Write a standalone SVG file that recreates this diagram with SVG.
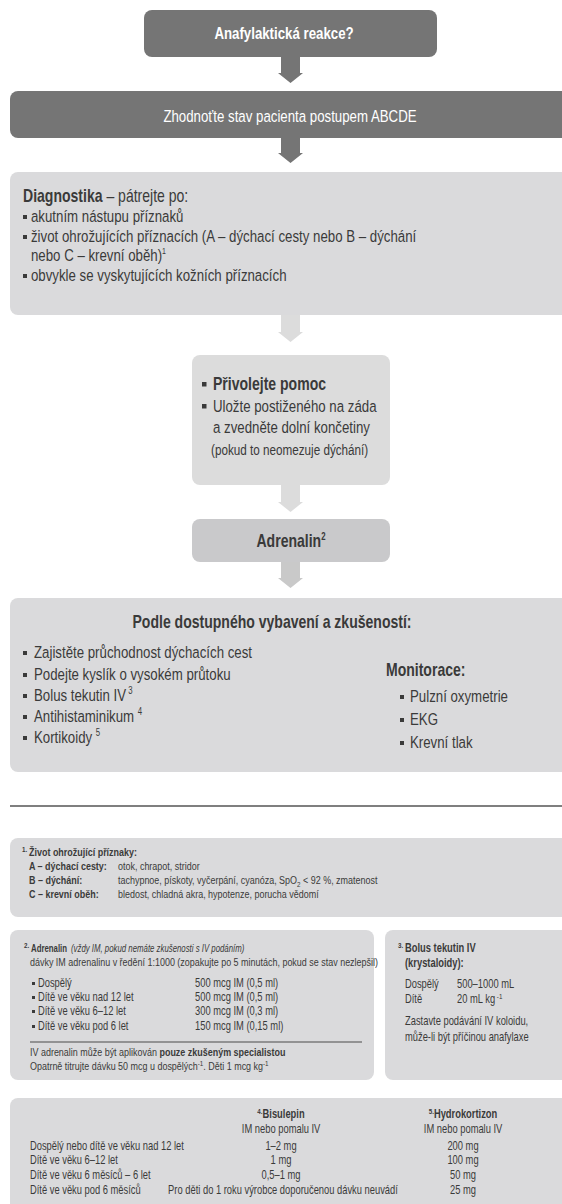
<svg xmlns="http://www.w3.org/2000/svg" width="562" height="1204" viewBox="0 0 562 1204">
<style>
text { font-family: "Liberation Sans", Arial, sans-serif; fill: #3a3a3a; transform-box: fill-box; transform-origin: 0 50%; transform: scaleX(0.78); }
text.m { text-anchor: middle; transform-origin: 50% 50%; }
text.n { transform: scaleX(0.68); }
.w { fill: #ffffff; }
.b { font-weight: bold; }
.dark { fill: #757575; }
.light { fill: #dadadc; }
.mid { fill: #c9c9cb; }
.bul { fill: #3a3a3a; }
.f17 { font-size: 17px; }
.f18 { font-size: 18px; }
.f16 { font-size: 17px; }
.f15 { font-size: 15px; }
.f12 { font-size: 12px; }
.f11 { font-size: 11.5px; }
.sup { font-size: 8px; }
</style>
<g id="connectors">
  <polygon class="dark" points="281,57 300,57 300,73 303,73 290.5,83 278,73 281,73"/>
  <polygon class="dark" points="281,138 300,138 300,153 303,153 290.5,163 278,153 281,153"/>
  <polygon fill="#dcdcdc" points="281,315 300,315 300,332 303,332 290.5,342 278,332 281,332"/>
  <polygon fill="#dcdcdc" points="281,485 300,485 300,502 303,502 290.5,512 278,502 281,502"/>
  <polygon fill="#c9c9c9" points="281,562 300,562 300,578 303,578 290.5,588 278,578 281,578"/>
</g>
<g id="n1">
  <rect class="dark" x="144" y="10" width="293" height="47" rx="8"/>
  <text class="m w b f17" x="284" y="39">Anafylaktická reakce?</text>
</g>
<g id="n2">
  <rect class="dark" x="10" y="91" width="560" height="47" rx="8"/>
  <text class="m w f17" x="290" y="122">Zhodnoťte stav pacienta postupem ABCDE</text>
</g>
<g id="n3">
  <rect class="light" x="10" y="172" width="560" height="143" rx="8"/>
  <text class="f18" x="23" y="202" font-size="18.5"><tspan class="b">Diagnostika</tspan> – pátrejte po:</text>
  <rect class="bul" x="23" y="215" width="4" height="4"/>
  <text class="f16" x="31" y="222">akutním nástupu příznaků</text>
  <rect class="bul" x="23" y="235" width="4" height="4"/>
  <text class="f16" x="31" y="242">život ohrožujících příznacích (A – dýchací cesty nebo B – dýchání</text>
  <text class="f16" x="31" y="261">nebo C – krevní oběh)<tspan font-size="9" dy="-7">1</tspan></text>
  <rect class="bul" x="23" y="274" width="4" height="4"/>
  <text class="f16" x="31" y="281">obvykle se vyskytujících kožních příznacích</text>
</g>
<g id="n4">
  <rect fill="#dcdcdc" x="192" y="355" width="198" height="130" rx="8"/>
  <rect class="bul" x="202" y="382" width="4.5" height="4.5"/>
  <text class="b f18" x="213" y="390">Přivolejte pomoc</text>
  <rect class="bul" x="202" y="404" width="4.5" height="4.5"/>
  <text class="f17" x="213" y="412">Uložte postiženého na záda</text>
  <text class="f17" x="213" y="433">a zvedněte dolní končetiny</text>
  <text class="f15" x="211" y="455">(pokud to neomezuje dýchání)</text>
</g>
<g id="n5">
  <rect class="mid" x="192" y="519" width="198" height="43" rx="8"/>
  <text class="m b f18" x="291" y="547">Adrenalin<tspan font-size="10" dy="-7">2</tspan></text>
</g>
<g id="n6">
  <rect class="light" x="10" y="598" width="560" height="174" rx="8"/>
  <text class="m b f18" x="272" y="628">Podle dostupného vybavení a zkušeností:</text>
  <rect class="bul" x="23" y="651" width="4" height="4"/>
  <text class="f17" x="34" y="658">Zajistěte průchodnost dýchacích cest</text>
  <rect class="bul" x="23" y="673" width="4" height="4"/>
  <text class="f17" x="34" y="680">Podejte kyslík o vysokém průtoku</text>
  <rect class="bul" x="23" y="694" width="4" height="4"/>
  <text class="f17" x="34" y="701">Bolus tekutin IV<tspan font-size="10" dy="-7"> 3</tspan></text>
  <rect class="bul" x="23" y="715" width="4" height="4"/>
  <text class="f17" x="34" y="722">Antihistaminikum <tspan font-size="10" dy="-7"> 4</tspan></text>
  <rect class="bul" x="23" y="736" width="4" height="4"/>
  <text class="f17" x="34" y="743">Kortikoidy <tspan font-size="10" dy="-7"> 5</tspan></text>
  <text class="b f18" x="386" y="676">Monitorace:</text>
  <rect class="bul" x="400" y="695" width="4" height="4"/>
  <text class="f17" x="410" y="702">Pulzní oxymetrie</text>
  <rect class="bul" x="400" y="718" width="4" height="4"/>
  <text class="f17" x="410" y="725">EKG</text>
  <rect class="bul" x="400" y="741" width="4" height="4"/>
  <text class="f17" x="410" y="748">Krevní tlak</text>
</g>
<line x1="10" y1="806" x2="562" y2="806" stroke="#555555" stroke-width="1.5"/>
<g id="f1">
  <rect class="light" x="10" y="838" width="560" height="79" rx="8"/>
  <text class="b sup" x="22" y="852">1.</text>
  <text class="b f11" x="29" y="856">Život ohrožující příznaky:</text>
  <text class="b f11" x="29" y="870">A – dýchací cesty:</text>
  <text class="f11" x="118" y="870">otok, chrapot, stridor</text>
  <text class="b f11" x="29" y="884">B – dýchání:</text>
  <text class="f11" x="118" y="884">tachypnoe, pískoty, vyčerpání, cyanóza, SpO<tspan font-size="8" dy="3">2</tspan><tspan dy="-3"> &lt; 92 %, zmatenost</tspan></text>
  <text class="b f11" x="29" y="898">C – krevní oběh:</text>
  <text class="f11" x="118" y="898">bledost, chladná akra, hypotenze, porucha vědomí</text>
</g>
<g id="f2">
  <rect class="light" x="10" y="930" width="364" height="150" rx="8"/>
  <text class="b sup" x="24" y="948">2.</text>
  <text class="n b f11" x="31" y="952">Adrenalin</text>
  <text class="n f11" x="71" y="952" font-style="italic">(vždy IM, pokud nemáte zkušenosti s IV podáním)</text>
  <text class="f11" x="30" y="966">dávky IM adrenalinu v ředění 1:1000 (zopakujte po 5 minutách, pokud se stav nezlepšil)</text>
  <rect class="bul" x="32" y="982" width="3" height="3"/>
  <text class="f12" x="38" y="987">Dospělý</text>
  <text class="f12" x="195" y="987">500 mcg IM (0,5 ml)</text>
  <rect class="bul" x="32" y="996" width="3" height="3"/>
  <text class="f12" x="38" y="1001">Dítě ve věku nad 12 let</text>
  <text class="f12" x="195" y="1001">500 mcg IM (0,5 ml)</text>
  <rect class="bul" x="32" y="1010" width="3" height="3"/>
  <text class="f12" x="38" y="1015">Dítě ve věku 6–12 let</text>
  <text class="f12" x="195" y="1015">300 mcg IM (0,3 ml)</text>
  <rect class="bul" x="32" y="1025" width="3" height="3"/>
  <text class="f12" x="38" y="1030">Dítě ve věku pod 6 let</text>
  <text class="f12" x="195" y="1030">150 mcg IM (0,15 ml)</text>
  <line x1="30" y1="1042" x2="362" y2="1042" stroke="#4a4a4a" stroke-width="1"/>
  <text class="f11" x="30" y="1056">IV adrenalin může být aplikován <tspan class="b">pouze zkušeným specialistou</tspan></text>
  <text class="f11" x="30" y="1070">Opatrně titrujte dávku 50 mcg u dospělých<tspan font-size="8" dy="-4">-1</tspan><tspan dy="4">. Děti 1 mcg kg</tspan><tspan font-size="8" dy="-4">-1</tspan></text>
</g>
<g id="f3">
  <rect class="light" x="385" y="930" width="185" height="150" rx="8"/>
  <text class="b sup" x="398" y="948">3.</text>
  <text class="b f12" x="405" y="952">Bolus tekutin IV</text>
  <text class="b f12" x="405" y="967">(krystaloidy):</text>
  <text class="f12" x="405" y="988">Dospělý</text>
  <text class="f12" x="457" y="988">500–1000 mL</text>
  <text class="f12" x="405" y="1003">Dítě</text>
  <text class="f12" x="457" y="1003">20 mL kg<tspan font-size="8" dy="-4"> -1</tspan></text>
  <text class="f12" x="405" y="1025">Zastavte podávání IV koloidu,</text>
  <text class="f12" x="405" y="1041">může-li být příčinou anafylaxe</text>
</g>
<g id="f4">
  <rect class="light" x="10" y="1098" width="560" height="120" rx="8"/>
  <text class="m b f12" x="281" y="1118"><tspan font-size="8" dy="-4">4.</tspan><tspan dy="4">Bisulepin</tspan></text>
  <text class="m f12" x="281" y="1133">IM nebo pomalu IV</text>
  <text class="m b f12" x="463" y="1118"><tspan font-size="8" dy="-4">5.</tspan><tspan dy="4">Hydrokortizon</tspan></text>
  <text class="m f12" x="463" y="1133">IM nebo pomalu IV</text>
  <text class="f12" x="30" y="1150">Dospělý nebo dítě ve věku nad 12 let</text>
  <text class="f12" x="30" y="1164">Dítě ve věku 6–12 let</text>
  <text class="f12" x="30" y="1179">Dítě ve věku 6 měsíců – 6 let</text>
  <text class="f12" x="30" y="1194">Dítě ve věku pod 6 měsíců</text>
  <text class="m f12" x="281" y="1150">1–2 mg</text>
  <text class="m f12" x="281" y="1164">1 mg</text>
  <text class="m f12" x="281" y="1179">0,5–1 mg</text>
  <text class="m f12" x="283" y="1194">Pro děti do 1 roku výrobce doporučenou dávku neuvádí</text>
  <text class="m f12" x="463" y="1150">200 mg</text>
  <text class="m f12" x="463" y="1164">100 mg</text>
  <text class="m f12" x="463" y="1179">50 mg</text>
  <text class="m f12" x="463" y="1194">25 mg</text>
</g>
</svg>
